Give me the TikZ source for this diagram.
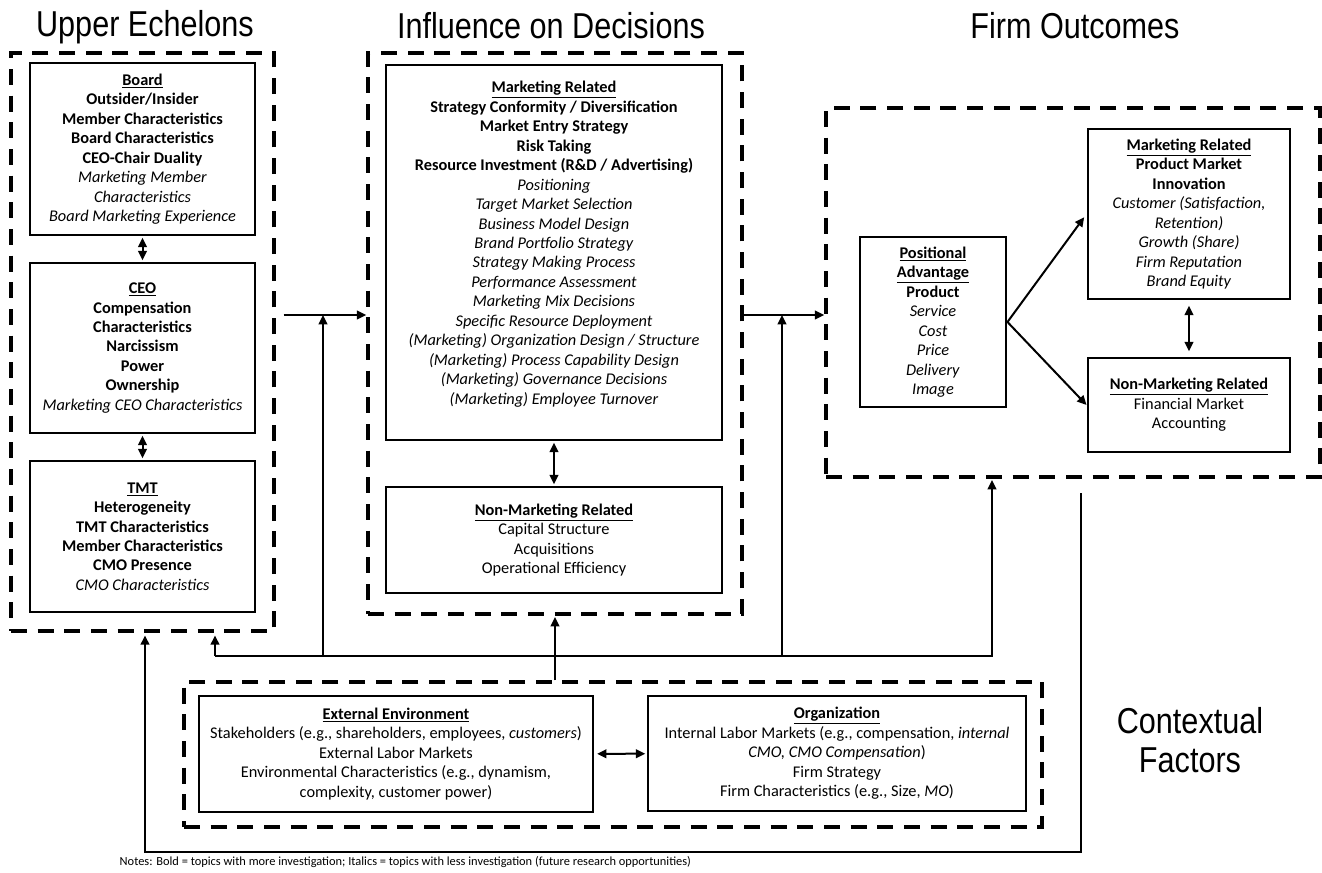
\documentclass[tikz,border=0pt]{standalone}
\usepackage{fontspec}
\setmainfont{Carlito}
\newfontfamily\headfont[FakeStretch=0.85]{Liberation Sans}
\usetikzlibrary{arrows.meta}
\newcommand{\hd}[1]{\underline{\textbf{#1}}}
\tikzset{
  boxw/.style={minimum width=#1*0.75pt},
  boxh/.style={minimum height=#1*0.75pt},
  solidbox/.style={draw,line width=2.2pt,align=center,inner sep=0pt,
    font=\fontsize{12.25}{14.6}\selectfont},
  grpbox/.style={draw,line width=2.6pt,dash pattern=on 12pt off 8pt,inner sep=0pt},
  arr/.style={line width=1.5pt,-{Triangle[length=7pt,width=6.5pt]}},
  dbl/.style={line width=1.5pt,{Triangle[length=7pt,width=6.5pt]}-{Triangle[length=7pt,width=6.5pt]}},
  headline/.style={font=\headfont\fontsize{27}{29}\selectfont,align=center}
}
\begin{document}
\begin{tikzpicture}[x=0.75pt,y=-0.75pt]
			\useasboundingbox (0,0) rectangle (1322,872);

			\node[headline] (t-ue) at (145,27) {Upper Echelons};
			\node[headline] (t-inf) at (551,26) {Influence on Decisions};
			\node[headline] (t-out) at (1075,26) {Firm Outcomes};
			\node[headline] (t-ctx) at (1190,740) {Contextual\\Factors};

			\node[grpbox,boxw=263,boxh=578] (ue) at (142.5,342) {};
			\node[grpbox,boxw=374,boxh=561] (inf) at (555,333.5) {};
			\node[grpbox,boxw=494,boxh=369] (out) at (1073,292.5) {};
			\node[grpbox,boxw=858,boxh=145] (ctx) at (613,754.5) {};

			\node[solidbox,boxw=225,boxh=172] (board) at (142.5,149) {\hd{Board}\\ \textbf{Outsider/Insider}\\ \textbf{Member Characteristics}\\ \textbf{Board Characteristics}\\ \textbf{CEO-Chair Duality}\\ \textit{Marketing Member}\\ \textit{Characteristics}\\ \textit{Board Marketing Experience}};
			\node[solidbox,boxw=225,boxh=170] (ceo) at (142.5,348) {\hd{CEO}\\ \textbf{Compensation}\\ \textbf{Characteristics}\\ \textbf{Narcissism}\\ \textbf{Power}\\ \textbf{Ownership}\\ \textit{Marketing CEO Characteristics}};
			\node[solidbox,boxw=225,boxh=151] (tmt) at (142.5,536.5) {\hd{TMT}\\ \textbf{Heterogeneity}\\ \textbf{TMT Characteristics}\\ \textbf{Member Characteristics}\\ \textbf{CMO Presence}\\ \textit{CMO Characteristics}};

			\node[solidbox,boxw=336,boxh=375] (mkt-dec) at (554,252.5) {\hd{Marketing Related}\\ \textbf{Strategy Conformity / Diversification}\\ \textbf{Market Entry Strategy}\\ \textbf{Risk Taking}\\ \textbf{Resource Investment (R\&D / Advertising)}\\ \textit{Positioning}\\ \textit{Target Market Selection}\\ \textit{Business Model Design}\\ \textit{Brand Portfolio Strategy}\\ \textit{Strategy Making Process}\\ \textit{Performance Assessment}\\ \textit{Marketing Mix Decisions}\\ \textit{Specific Resource Deployment}\\ \textit{(Marketing) Organization Design / Structure}\\ \textit{(Marketing) Process Capability Design}\\ \textit{(Marketing) Governance Decisions}\\ \textit{(Marketing) Employee Turnover}\\ ~};
			\node[solidbox,boxw=336,boxh=106] (non-dec) at (554,540) {\hd{Non-Marketing Related}\\ Capital Structure\\ Acquisitions\\ Operational Efficiency};

			\node[solidbox,boxw=146,boxh=170] (pos) at (933,322) {\hd{Positional}\\ \hd{Advantage}\\ \textbf{Product}\\ \textit{Service}\\ \textit{Cost}\\ \textit{Price}\\ \textit{Delivery}\\ \textit{Image}};
			\node[solidbox,boxw=202,boxh=170] (mkt-out) at (1189,214) {\hd{Marketing Related}\\ \textbf{Product Market}\\ \textbf{Innovation}\\ \textit{Customer (Satisfaction,}\\ \textit{Retention)}\\ \textit{Growth (Share)}\\ \textit{Firm Reputation}\\ \textit{Brand Equity}};
			\node[solidbox,boxw=202,boxh=94] (non-out) at (1189,405) {\hd{Non-Marketing Related}\\ Financial Market\\ Accounting};

			\node[solidbox,boxw=394,boxh=116] (ext) at (396,754) {\hd{External Environment}\\ Stakeholders (e.g., shareholders, employees, \textit{customers})\\ External Labor Markets\\ Environmental Characteristics (e.g., dynamism,\\ complexity, customer power)};
			\node[solidbox,boxw=378,boxh=115] (org) at (837,753.5) {\hd{Organization}\\ Internal Labor Markets (e.g., compensation, \textit{internal}\\ \textit{CMO, CMO Compensation})\\ Firm Strategy\\ Firm Characteristics (e.g., Size, \textit{MO})};

			\node[anchor=west,font=\fontsize{9.3}{10}\selectfont] (notes) at (115,862) {Notes: Bold = topics with more investigation; Italics = topics with less investigation (future research opportunities)};

			\draw[dbl,shorten <=1pt,shorten >=1pt] (board) -- (ceo);
			\draw[dbl,shorten <=1pt,shorten >=1pt] (ceo) -- (tmt);
			\draw[dbl,shorten <=1pt,shorten >=1pt] (mkt-dec) -- (non-dec);
			\draw[dbl,shorten <=4pt,shorten >=4pt] (mkt-out) -- (non-out);
			\draw[dbl,shorten <=2pt,shorten >=1pt] (ext) -- (org);
			\draw[arr,shorten >=3pt] (pos.east) -- (mkt-out.west);
			\draw[arr] (pos.east) -- (non-out.west);

			\coordinate (row) at (323,315);
			\coordinate (fb-l) at (215,656);
			\coordinate (fb-r) at (992,656);
			\coordinate (up-a) at (323,656);
			\coordinate (up-b) at (782,656);
			\coordinate (loop-top) at (1081,493);
			\coordinate (loop-bot) at (1081,852);
			\coordinate (loop-l) at (145,852);

			\draw[arr,shorten <=6pt] (ue.east |- row) -- (inf.west |- row);
			\draw[arr] (inf.east |- row) -- (out.west |- row);
			\draw[arr] (up-a) -- (up-a |- row);
			\draw[arr] (up-b) -- (up-b |- row);
			\draw[arr,shorten >=2pt] (fb-l) -- (fb-l |- ue.south);
			\draw[arr,shorten >=1pt] (fb-l) -- (fb-r) -- (fb-r |- out.south);
			\draw[arr,shorten >=1pt] (inf.south |- ctx.north) -- (inf.south);
			\draw[arr,shorten >=2pt] (loop-top) -- (loop-bot) -- (loop-l) -- (loop-l |- ue.south);
		\end{tikzpicture}
\end{document}
